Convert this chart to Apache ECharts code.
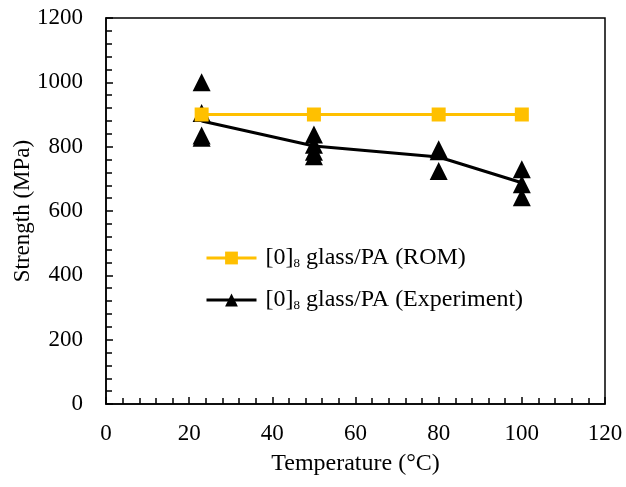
<!DOCTYPE html>
<html>
<head>
<meta charset="utf-8">
<script src="https://cdn.jsdelivr.net/npm/echarts@6/dist/echarts.min.js"></script>
<style>
  html, body { margin: 0; padding: 0; background: #fff; }
  #chart { width: 626px; height: 487px; }
</style>
</head>
<body>
<div id="chart"></div>
<script>
// temperatures (°C)
const temps = [23, 50, 80, 100];
// rule of mixtures prediction
const romStrength = [900, 900, 900, 900];
// experiment mean (line)
const expMean = [880, 802, 768, 688];
// individual test results, one list per temperature
const expSamples = [
  [1000, 905, 835, 828],
  [838, 806, 784, 770],
  [792, 786, 724],
  [730, 683, 643]
];

const FONT = '"Liberation Serif", "Times New Roman", serif';
const ROM_NAME = 'rom';
const EXP_NAME = 'exp';

const scatterData = [];
expSamples.forEach((list, i) => {
  list.forEach(v => scatterData.push([temps[i], v]));
});

const chart = echarts.init(document.getElementById('chart'));
chart.setOption({
  animation: false,
  grid: {
    left: 106, right: 21, top: 18, bottom: 83,
    outerBoundsMode: 'none', containLabel: false,
    show: true, borderColor: '#000', borderWidth: 1.5
  },
  legend: {
    orient: 'vertical',
    left: 200, top: 241,
    itemWidth: 50, itemHeight: 16,
    itemGap: 18,
    data: [ROM_NAME, EXP_NAME],
    lineStyle: { width: 3 },
    formatter(name){
      const tail = name === ROM_NAME ? ' glass/PA (ROM)' : ' glass/PA (Experiment)';
      return '[0]{sub|8}' + tail;
    },
    textStyle: {
      fontFamily: FONT, fontSize: 24, color: '#000', padding: [0, 0, 0, 4],
      rich: {
        sub: { fontFamily: FONT, fontSize: 13, color: '#000', verticalAlign: 'bottom', padding: [10, 0, 0, 0] }
      }
    }
  },
  xAxis: {
    type: 'value', min: 0, max: 120, interval: 20,
    name: 'Temperature (°C)', nameLocation: 'middle', nameGap: 48,
    nameMoveOverlap: false,
    nameTextStyle: { fontFamily: FONT, fontSize: 24, color: '#000' },
    axisLine: { lineStyle: { color: '#000', width: 1.5 } },
    axisTick: { inside: true, length: 7, lineStyle: { color: '#000', width: 1.5 } },
    minorTick: { show: true, splitNumber: 5, length: 6, lineStyle: { color: '#000', width: 1.5 } },
    axisLabel: { fontFamily: FONT, fontSize: 23, color: '#000', margin: 18 },
    splitLine: { show: false }
  },
  yAxis: {
    type: 'value', min: 0, max: 1200, interval: 200,
    name: 'Strength (MPa)', nameLocation: 'middle', nameGap: 72,
    nameMoveOverlap: false,
    nameTextStyle: { fontFamily: FONT, fontSize: 23, color: '#000' },
    axisLine: { show: true, lineStyle: { color: '#000', width: 1.5 } },
    axisTick: { show: true, inside: true, length: 7, lineStyle: { color: '#000', width: 1.5 } },
    minorTick: { show: true, splitNumber: 5, length: 6, lineStyle: { color: '#000', width: 1.5 } },
    axisLabel: { fontFamily: FONT, fontSize: 23, color: '#000', margin: 23, formatter: v => String(v) },
    splitLine: { show: false }
  },
  series: [
    {
      name: EXP_NAME,
      type: 'line',
      data: temps.map((t, i) => [t, expMean[i]]),
      symbol: 'triangle', symbolSize: 16, showSymbol: false,
      lineStyle: { color: '#000', width: 3 },
      itemStyle: { color: '#000' },
      z: 3
    },
    {
      name: 'samples',
      type: 'scatter',
      data: scatterData,
      symbol: 'triangle', symbolSize: 18,
      itemStyle: { color: '#000', opacity: 1 },
      z: 2
    },
    {
      name: ROM_NAME,
      type: 'line',
      data: temps.map((t, i) => [t, romStrength[i]]),
      symbol: 'rect', symbolSize: 14,
      lineStyle: { color: '#FFC000', width: 3 },
      itemStyle: { color: '#FFC000' },
      z: 4
    }
  ]
});
</script>
</body>
</html>
